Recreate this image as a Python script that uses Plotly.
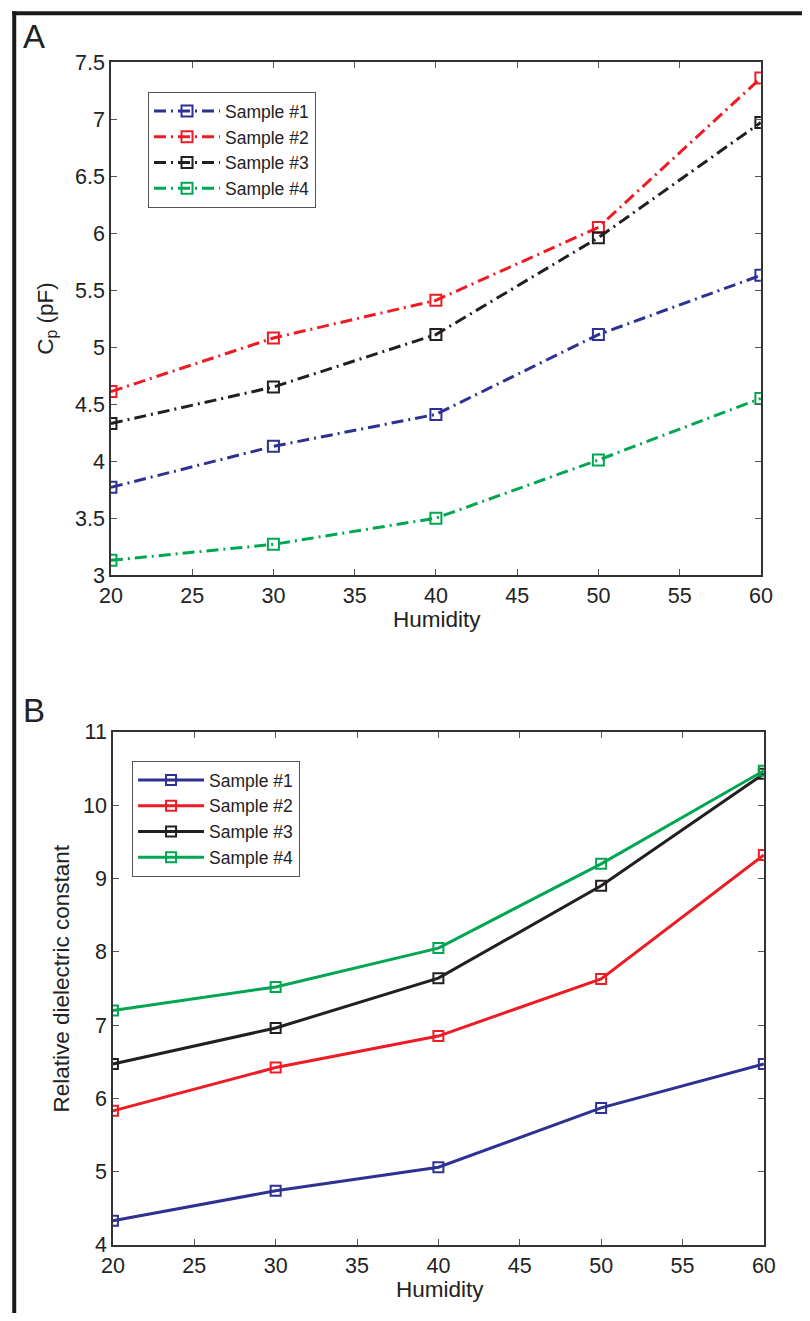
import plotly.graph_objects as go

humidity = [20, 30, 40, 50, 60]
samples = ["Sample #1", "Sample #2", "Sample #3", "Sample #4"]
colors = ["#2e3192", "#ed1c24", "#231f20", "#00a651"]

# Panel A: Cp (pF)
cp_s1 = [3.77, 4.13, 4.41, 5.11, 5.63]
cp_s2 = [4.61, 5.08, 5.41, 6.05, 7.36]
cp_s3 = [4.33, 4.65, 5.11, 5.96, 6.97]
cp_s4 = [3.13, 3.27, 3.50, 4.01, 4.55]

# Panel B: relative dielectric constant
er_s1 = [4.33, 4.74, 5.06, 5.87, 6.47]
er_s2 = [5.83, 6.42, 6.85, 7.63, 9.32]
er_s3 = [6.47, 6.96, 7.64, 8.90, 10.43]
er_s4 = [7.20, 7.52, 8.05, 9.20, 10.47]

x_ticks = [20, 25, 30, 35, 40, 45, 50, 55, 60]
yA_ticks = [3, 3.5, 4, 4.5, 5, 5.5, 6, 6.5, 7, 7.5]
yB_ticks = [4, 5, 6, 7, 8, 9, 10, 11]

# page is 810x1321 with the default 8px body margin
OFF = 8
FW, FH = 810 - 2 * OFF, 1321 - 2 * OFF
# the returned picture shows the page inset by ~11px and shrunk accordingly
PAD = 11
AX = (810 - 2 * PAD) / 810
AY = (1321 - 2 * PAD) / 1321
FONT = "Liberation Sans, Arial, Helvetica, sans-serif"
TXT = "#222222"


def px(s):
    return ((s - PAD) / AX - OFF) / FW


def py(s):
    return 1 - ((s - PAD) / AY - OFF) / FH


fig = go.Figure()

for name, vals, col in zip(samples, [cp_s1, cp_s2, cp_s3, cp_s4], colors):
    fig.add_trace(go.Scatter(
        x=humidity, y=vals, name=name, mode="lines+markers",
        line=dict(color=col, width=3, dash="12px,5px,2px,5px"),
        marker=dict(symbol="square-open", size=11, color=col, line=dict(width=2, color=col)),
        xaxis="x", yaxis="y", legend="legend",
    ))

for name, vals, col in zip(samples, [er_s1, er_s2, er_s3, er_s4], colors):
    fig.add_trace(go.Scatter(
        x=humidity, y=vals, name=name, mode="lines+markers",
        line=dict(color=col, width=3),
        marker=dict(symbol="square-open", size=10, color=col, line=dict(width=2, color=col)),
        xaxis="x2", yaxis="y2", legend="legend2",
    ))

axis_common = dict(
    showline=True, linecolor="#333333", linewidth=1.5, mirror="ticks",
    ticks="inside", ticklen=6, tickwidth=1, tickcolor="#555555",
    showgrid=False, zeroline=False,
    tickfont=dict(family=FONT, size=21.5, color=TXT),
)

legend_common = dict(
    xanchor="left", yanchor="top", bgcolor="white", bordercolor="#555555",
    borderwidth=1.2, font=dict(family=FONT, size=17.5, color=TXT),
    tracegroupgap=0, itemwidth=66,
)

fig.update_layout(
    width=FW, height=FH, autosize=False,
    margin=dict(l=0, r=0, t=0, b=0),
    paper_bgcolor="white", plot_bgcolor="white",
    font=dict(family=FONT, color=TXT),
    xaxis=dict(domain=[px(110), px(762)], range=[20, 60], tickvals=x_ticks,
               anchor="y", **axis_common),
    yaxis=dict(domain=[py(576), py(62)], range=[3, 7.5], tickvals=yA_ticks,
               anchor="x", **axis_common),
    xaxis2=dict(domain=[px(112), px(765)], range=[20, 60], tickvals=x_ticks,
                anchor="y2", **axis_common),
    yaxis2=dict(domain=[py(1247), py(733)], range=[4, 11], tickvals=yB_ticks,
                anchor="x2", **axis_common),
    legend=dict(x=px(147), y=py(92), **legend_common),
    legend2=dict(x=px(131), y=py(762), **legend_common),
    showlegend=True,
)

annotations = [
    dict(text="A", x=px(33), y=py(36), font=dict(family=FONT, size=33, color=TXT)),
    dict(text="B", x=px(33), y=py(712), font=dict(family=FONT, size=33, color=TXT)),
    dict(text="Humidity", x=px(437), y=py(620), font=dict(family=FONT, size=22.5, color=TXT)),
    dict(text="Humidity", x=px(440), y=py(1292), font=dict(family=FONT, size=22.5, color=TXT)),
    dict(text="C<sub>p</sub> (pF)", x=px(45), y=py(319), textangle=-90,
         font=dict(family=FONT, size=22.5, color=TXT)),
    dict(text="Relative dielectric constant", x=px(60), y=py(980), textangle=-90,
         font=dict(family=FONT, size=22.5, color=TXT)),
]
for a in annotations:
    a.update(xref="paper", yref="paper", showarrow=False, xanchor="center", yanchor="middle")
fig.update_layout(annotations=annotations)

# black frame (top and left edges)
fig.add_shape(type="rect", xref="paper", yref="paper", x0=px(11), x1=1.05, y0=py(15), y1=py(11),
              line=dict(width=0), fillcolor="#1a1a1a", layer="above")
fig.add_shape(type="rect", xref="paper", yref="paper", x0=px(11), x1=px(15), y0=-0.05, y1=py(11),
              line=dict(width=0), fillcolor="#1a1a1a", layer="above")

fig.write_html("out.html", config={"displayModeBar": False})
